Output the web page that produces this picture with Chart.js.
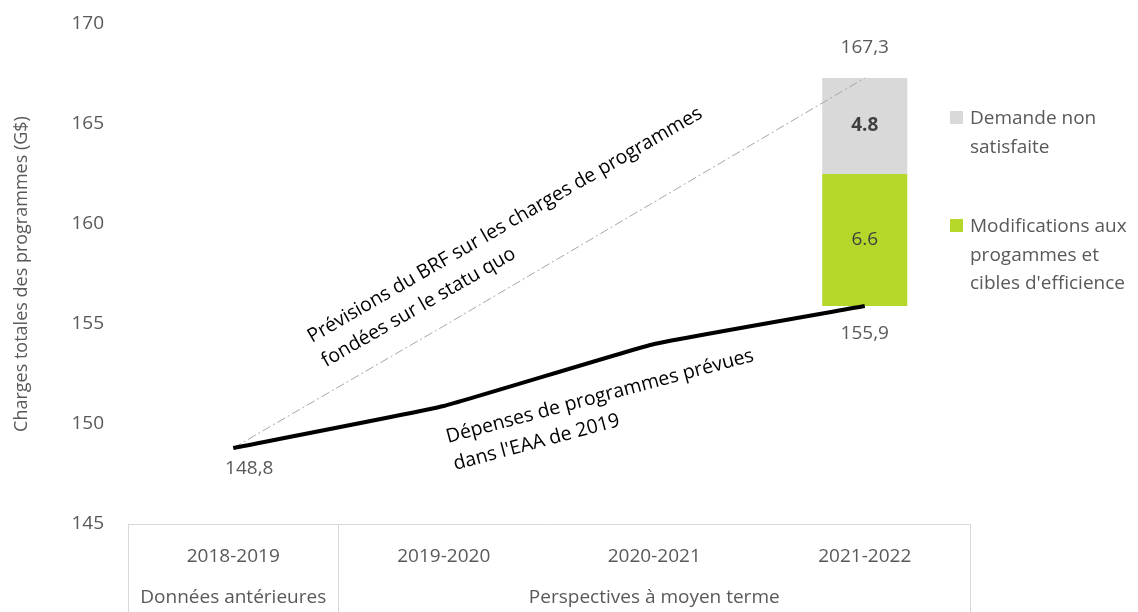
<!DOCTYPE html>
<html><head><meta charset="utf-8">
<script src="https://cdn.jsdelivr.net/npm/chart.js@4"></script>
<style>html,body{margin:0;padding:0;background:#fff;}#wrap{width:1138px;height:612px;position:relative;}</style>
</head><body><div id="wrap"><canvas id="c" width="1138" height="612"></canvas></div>
<script>
const categories = ['2018-2019', '2019-2020', '2020-2021', '2021-2022'];
const periodLabels = ['Données antérieures', '', 'Perspectives à moyen terme', ''];
const plannedSpending = [148.8, 150.9, 154.0, 155.9];
const statusQuoForecast = [148.8, 154.9, 161.1, 167.3];
const programChanges = [null, null, null, 6.6];
const unmetDemand = [null, null, null, 4.8];
const yTicks = [145, 150, 155, 160, 165, 170];
const legendUnmet = ['Demande non', 'satisfaite'];
const legendChanges = ['Modifications aux', 'progammes et', "cibles d'efficience"];
const noteForecast = ['Prévisions du BRF sur les charges de programmes', 'fondées sur le statu quo'];
const notePlanned = ['Dépenses de programmes prévues', "dans l'EAA de 2019"];

const FONT = '"Open Sans", "Noto Sans", sans-serif';
const GREEN = '#b5d72a';
const GREY = '#d9d9d9';

const changesRange = programChanges.map((v, i) => v == null ? null : [plannedSpending[i], +(plannedSpending[i] + v).toFixed(1)]);
const unmetRange = unmetDemand.map((v, i) => v == null ? null : [changesRange[i][1], +(changesRange[i][1] + v).toFixed(1)]);

const fmtComma = v => v.toFixed(1).replace('.', ',');

const labelPlugin = {
  id: 'labels',
  afterDatasetsDraw(chart) {
    const ctx = chart.ctx;
    ctx.save();
    ctx.textAlign = 'center';
    ctx.textBaseline = 'middle';
    const lineMeta = chart.getDatasetMeta(0);
    const p0 = lineMeta.data[0], pN = lineMeta.data[lineMeta.data.length - 1];
    ctx.fillStyle = '#595959';
    ctx.font = '19px ' + FONT;
    ctx.fillText(fmtComma(plannedSpending[0]), p0.x + 16, p0.y + 21);
    ctx.fillText(fmtComma(plannedSpending[plannedSpending.length - 1]), pN.x, pN.y + 28);
    const gMeta = chart.getDatasetMeta(2), uMeta = chart.getDatasetMeta(3);
    gMeta.data.forEach((b, i) => {
      if (programChanges[i] == null) return;
      ctx.fillStyle = '#404040';
      ctx.font = '19px ' + FONT;
      ctx.fillText(programChanges[i].toFixed(1), b.x, (b.y + b.base) / 2);
    });
    uMeta.data.forEach((b, i) => {
      if (unmetDemand[i] == null) return;
      ctx.fillStyle = '#404040';
      ctx.font = 'bold 19px ' + FONT;
      ctx.fillText(unmetDemand[i].toFixed(1), b.x, (b.y + b.base) / 2);
      ctx.fillStyle = '#595959';
      ctx.font = '19px ' + FONT;
      ctx.fillText(fmtComma(unmetRange[i][1]), b.x, b.y - 30);
    });
    ctx.restore();
  }
};

const notePlugin = {
  id: 'notes',
  afterDatasetsDraw(chart) {
    const ctx = chart.ctx, x = chart.scales.x, y = chart.scales.y;
    const notes = [
      { lines: noteForecast, at: [0.374, 154.05], angle: -30 },
      { lines: notePlanned, at: [1.02, 149.05], angle: -15 }
    ];
    ctx.save();
    ctx.fillStyle = '#000';
    ctx.font = '19.5px ' + FONT;
    ctx.textAlign = 'left';
    ctx.textBaseline = 'alphabetic';
    notes.forEach(n => {
      ctx.save();
      ctx.translate(x.getPixelForValue(n.at[0]), y.getPixelForValue(n.at[1]));
      ctx.rotate(n.angle * Math.PI / 180);
      n.lines.forEach((t, k) => ctx.fillText(t, 0, k * 28));
      ctx.restore();
    });
    ctx.restore();
  }
};

const legendPlugin = {
  id: 'customLegend',
  afterDraw(chart) {
    const ctx = chart.ctx, a = chart.chartArea;
    const items = [
      { color: GREY, lines: legendUnmet, top: 111 },
      { color: GREEN, lines: legendChanges, top: 219 }
    ];
    ctx.save();
    ctx.font = '19px ' + FONT;
    ctx.textBaseline = 'middle';
    ctx.textAlign = 'left';
    items.forEach(it => {
      ctx.fillStyle = it.color;
      ctx.fillRect(a.right - 20, it.top, 13, 13);
      ctx.fillStyle = '#595959';
      it.lines.forEach((t, k) => ctx.fillText(t, a.right, it.top + 8 + k * 28.5));
    });
    ctx.restore();
  }
};

new Chart(document.getElementById('c'), {
  data: {
    labels: categories,
    datasets: [
      { type: 'line', label: 'Dépenses de programmes prévues', data: plannedSpending, borderColor: '#000', borderWidth: 4, pointRadius: 0, tension: 0.1, order: 0 },
      { type: 'line', label: 'Prévisions du BRF', data: statusQuoForecast, borderColor: '#a6a6a6', borderWidth: 1, borderDash: [9, 3, 2, 3], pointRadius: 0, tension: 0, order: 1 },
      { type: 'bar', label: legendChanges.join(' '), data: changesRange, backgroundColor: GREEN, grouped: false, barPercentage: 0.404, categoryPercentage: 1, order: 3 },
      { type: 'bar', label: legendUnmet.join(' '), data: unmetRange, backgroundColor: GREY, grouped: false, barPercentage: 0.404, categoryPercentage: 1, order: 2 }
    ]
  },
  options: {
    responsive: false,
    animation: false,
    devicePixelRatio: 1,
    layout: { padding: { top: 24, right: 168, bottom: 0, left: 0 } },
    plugins: { legend: { display: false }, tooltip: { enabled: false } },
    scales: {
      x: {
        type: 'category',
        offset: true,
        afterFit(s) { s.height = 88; s.paddingLeft = 0; s.paddingRight = 0; },
        grid: {
          display: true, offset: true, drawOnChartArea: false, drawTicks: true, tickLength: 88,
          color: c => (c.type !== 'tick' || c.index <= 1) ? '#d9d9d9' : 'rgba(0,0,0,0)',
          lineWidth: 1
        },
        border: { display: true, color: '#d9d9d9', width: 1 },
        ticks: {
          autoSkip: false, maxRotation: 0,
          padding: -75.5,
          color: '#595959',
          font: { family: FONT, size: 19, lineHeight: 2.16 },
          callback: (v, i) => [categories[i], periodLabels[i]]
        }
      },
      y: {
        min: 145, max: 170,
        afterFit(s) { s.width = 128; s.paddingTop = 0; s.paddingBottom = 0; },
        afterBuildTicks(s) { s.ticks = yTicks.map(v => ({ value: v })); },
        grid: { display: false, drawTicks: false },
        border: { display: false },
        ticks: { padding: 24, color: '#595959', font: { family: FONT, size: 19 } },
        title: { display: true, text: 'Charges totales des programmes (G$)', color: '#595959', font: { family: FONT, size: 18 }, padding: { top: 11, bottom: 0 } }
      }
    }
  },
  plugins: [labelPlugin, notePlugin, legendPlugin]
});
</script></body></html>
